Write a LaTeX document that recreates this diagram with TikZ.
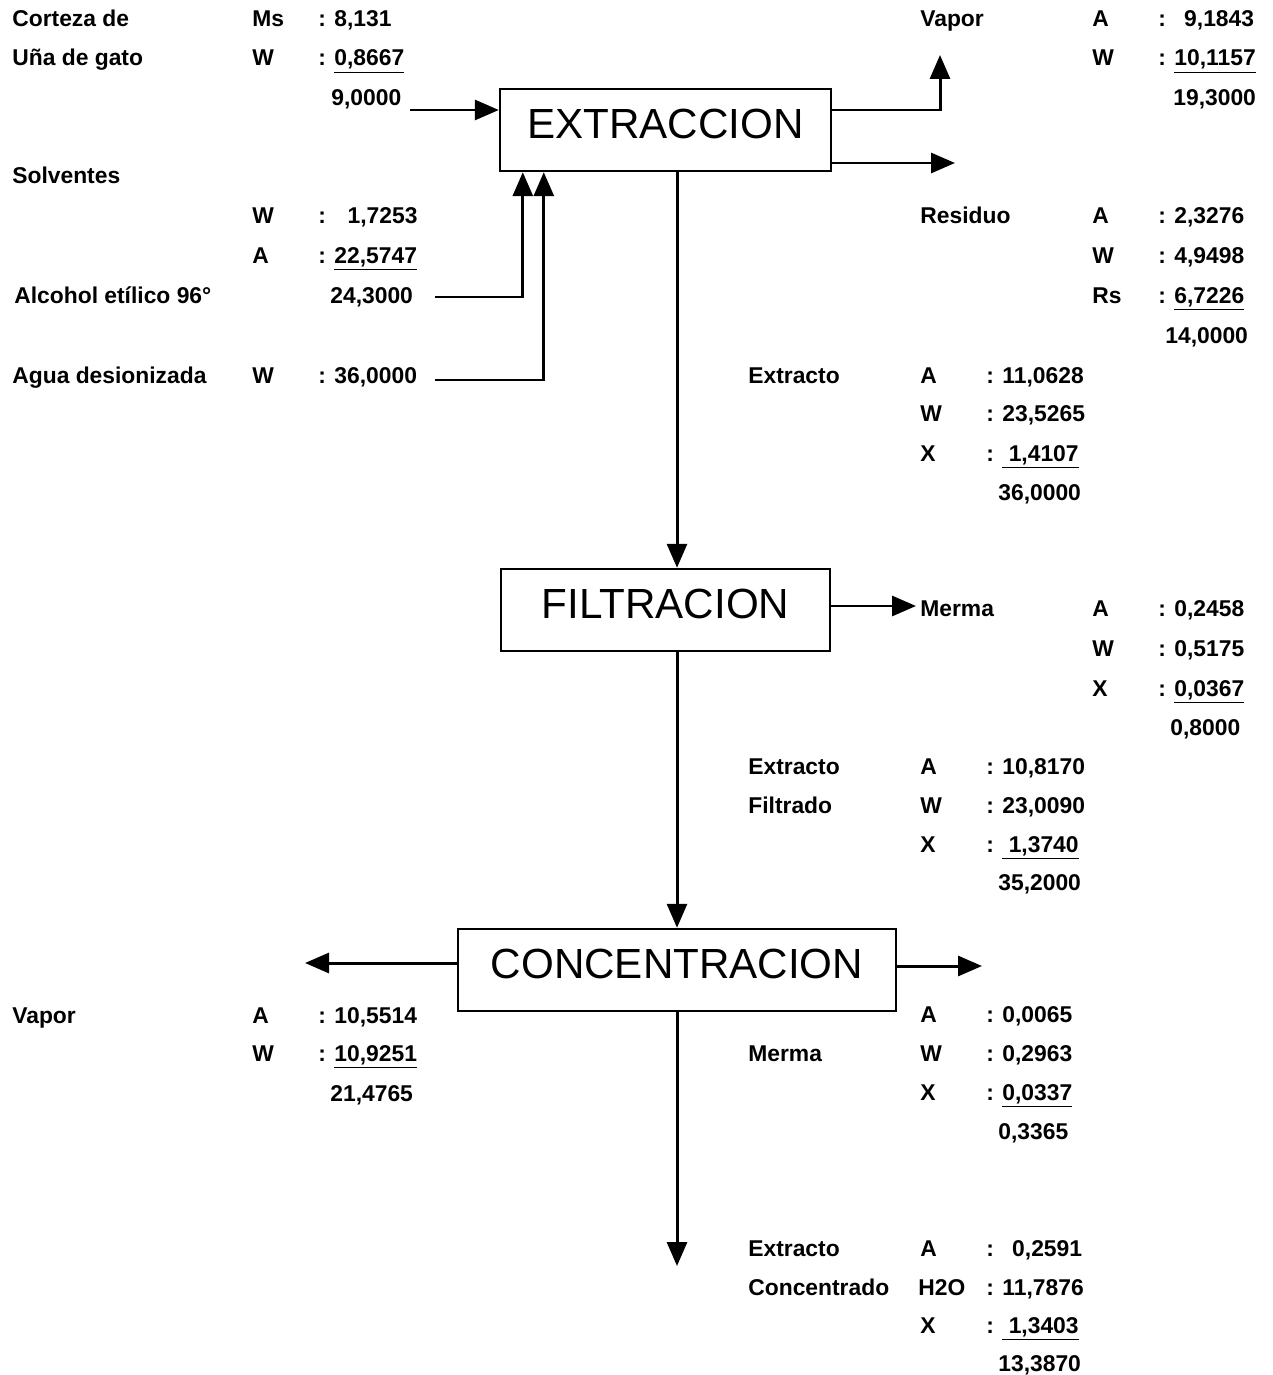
\documentclass[tikz,border=0pt]{standalone}
\usepackage{fontspec}
\setmainfont{Liberation Sans}
\usetikzlibrary{arrows.meta,positioning}

\tikzset{
  proceso/.style={draw, line width=1.4pt, minimum height=1.64cm, text depth=0.26cm,
    font=\fontsize{24}{28}\selectfont},
  dato/.style={anchor=base west, inner sep=0pt, font=\bfseries\fontsize{13}{15}\selectfont},
  flujo/.style={line width=1.7pt, -{Triangle[length=0.48cm,width=0.4cm]}},
}

\begin{document}
\begin{tikzpicture}[x=0.02cm, y=-0.02cm]
  \useasboundingbox (0,0) rectangle (1272,1375);

  % Operaciones
  \node[proceso, minimum width=6.62cm] (ext) at (665.5,130) {EXTRACCION};
  \node[proceso, minimum width=6.58cm] (fil) at (665.5,610) {FILTRACION};
  \node[proceso, minimum width=8.76cm] (conc) at (677,970) {CONCENTRACION};

  % extremos libres de las corrientes
  \coordinate (alim) at (410,110);
  \coordinate (vap1) at (940,55);
  \coordinate (res) at (955,163);
  \coordinate (alc) at (435,297);
  \coordinate (agua) at (435,380);
  \coordinate (mer1) at (916,606);
  \coordinate (vap2) at (305,963);
  \coordinate (mer2) at (982,966);
  \coordinate (prod) at (677,1266);

  % Corrientes
  \draw[flujo] (alim) -- (alim -| ext.west);
  \draw[flujo] (ext.east |- alim) -| (vap1);
  \draw[flujo] (res -| ext.east) -- (res);
  \draw[flujo] (alc) -| ([xshift=0.48cm]ext.south west);
  \draw[flujo] (agua) -| ([xshift=0.9cm]ext.south west);
  \draw[flujo] (ext.south -| conc) -- (fil.north -| conc);
  \draw[flujo] (mer1 -| fil.east) -- (mer1);
  \draw[flujo] (fil.south -| conc) -- (conc.north);
  \draw[flujo] (vap2 -| conc.west) -- (vap2);
  \draw[flujo] (mer2 -| conc.east) -- (mer2);
  \draw[flujo] (conc.south) -- (prod);

  % Alimentacion
  \node[dato] (cor1) at (12,27) {Corteza de};
  \node[dato] (cor2) at (252,27) {Ms};
  \node[dato] (cor3) at (318,27) {: 8,131};
  \node[dato] (una1) at (12,66) {Uña de gato};
  \node[dato] (una2) at (252,66) {W};
  \node[dato] (una3) at (318,66) {: \underline{0,8667}};
  \node[dato] (alimt) at (331,106) {9,0000};

  % Solventes
  \node[dato] (sol) at (12,184) {Solventes};
  \node[dato] (solw1) at (252,223) {W};
  \node[dato] (solw2) at (318,223) {:\hspace{0.95em}1,7253};
  \node[dato] (sola1) at (252,263) {A};
  \node[dato] (sola2) at (318,263) {: \underline{22,5747}};
  \node[dato] (alc1) at (14,303) {Alcohol etílico 96°};
  \node[dato] (alc2) at (330,303) {24,3000};
  \node[dato] (agua1) at (12,383) {Agua desionizada};
  \node[dato] (agua2) at (252,383) {W};
  \node[dato] (agua3) at (318,383) {: 36,0000};

  % Vapor de extraccion
  \node[dato] (va1) at (920,27) {Vapor};
  \node[dato] (va2) at (1092,27) {A};
  \node[dato] (va3) at (1158,27) {:\hspace{0.8em}9,1843};
  \node[dato] (va4) at (1092,66) {W};
  \node[dato] (va5) at (1158,66) {: \underline{10,1157}};
  \node[dato] (va6) at (1173,106) {19,3000};

  % Residuo
  \node[dato] (re1) at (920,223) {Residuo};
  \node[dato] (re2) at (1092,223) {A};
  \node[dato] (re3) at (1158,223) {: 2,3276};
  \node[dato] (re4) at (1092,263) {W};
  \node[dato] (re5) at (1158,263) {: 4,9498};
  \node[dato] (re6) at (1092,303) {Rs};
  \node[dato] (re7) at (1158,303) {: \underline{6,7226}};
  \node[dato] (re8) at (1165,343) {14,0000};

  % Extracto
  \node[dato] (ex1) at (748,383) {Extracto};
  \node[dato] (ex2) at (920,383) {A};
  \node[dato] (ex3) at (986,383) {: 11,0628};
  \node[dato] (ex4) at (920,421) {W};
  \node[dato] (ex5) at (986,421) {: 23,5265};
  \node[dato] (ex6) at (920,461) {X};
  \node[dato] (ex7) at (986,461) {: \underline{\ 1,4107}};
  \node[dato] (ex8) at (998,500) {36,0000};

  % Merma de filtracion
  \node[dato] (mf1) at (920,616) {Merma};
  \node[dato] (mf2) at (1092,616) {A};
  \node[dato] (mf3) at (1158,616) {: 0,2458};
  \node[dato] (mf4) at (1092,656) {W};
  \node[dato] (mf5) at (1158,656) {: 0,5175};
  \node[dato] (mf6) at (1092,696) {X};
  \node[dato] (mf7) at (1158,696) {: \underline{0,0367}};
  \node[dato] (mf8) at (1170,735) {0,8000};

  % Extracto filtrado
  \node[dato] (ef1) at (748,774) {Extracto};
  \node[dato] (ef2) at (920,774) {A};
  \node[dato] (ef3) at (986,774) {: 10,8170};
  \node[dato] (ef4) at (748,813) {Filtrado};
  \node[dato] (ef5) at (920,813) {W};
  \node[dato] (ef6) at (986,813) {: 23,0090};
  \node[dato] (ef7) at (920,852) {X};
  \node[dato] (ef8) at (986,852) {: \underline{\ 1,3740}};
  \node[dato] (ef9) at (998,890) {35,2000};

  % Vapor de concentracion
  \node[dato] (vc1) at (12,1023) {Vapor};
  \node[dato] (vc2) at (252,1023) {A};
  \node[dato] (vc3) at (318,1023) {: 10,5514};
  \node[dato] (vc4) at (252,1061) {W};
  \node[dato] (vc5) at (318,1061) {: \underline{10,9251}};
  \node[dato] (vc6) at (330,1101) {21,4765};

  % Merma de concentracion
  \node[dato] (mc1) at (920,1022) {A};
  \node[dato] (mc2) at (986,1022) {: 0,0065};
  \node[dato] (mc3) at (748,1061) {Merma};
  \node[dato] (mc4) at (920,1061) {W};
  \node[dato] (mc5) at (986,1061) {: 0,2963};
  \node[dato] (mc6) at (920,1100) {X};
  \node[dato] (mc7) at (986,1100) {: \underline{0,0337}};
  \node[dato] (mc8) at (998,1139) {0,3365};

  % Extracto concentrado
  \node[dato] (ec1) at (748,1256) {Extracto};
  \node[dato] (ec2) at (920,1256) {A};
  \node[dato] (ec3) at (986,1256) {:\hspace{0.8em}0,2591};
  \node[dato] (ec4) at (748,1295) {Concentrado};
  \node[dato] (ec5) at (918,1295) {H2O};
  \node[dato] (ec6) at (986,1295) {: 11,7876};
  \node[dato] (ec7) at (920,1333) {X};
  \node[dato] (ec8) at (986,1333) {: \underline{\ 1,3403}};
  \node[dato] (ec9) at (998,1371) {13,3870};
\end{tikzpicture}
\end{document}
